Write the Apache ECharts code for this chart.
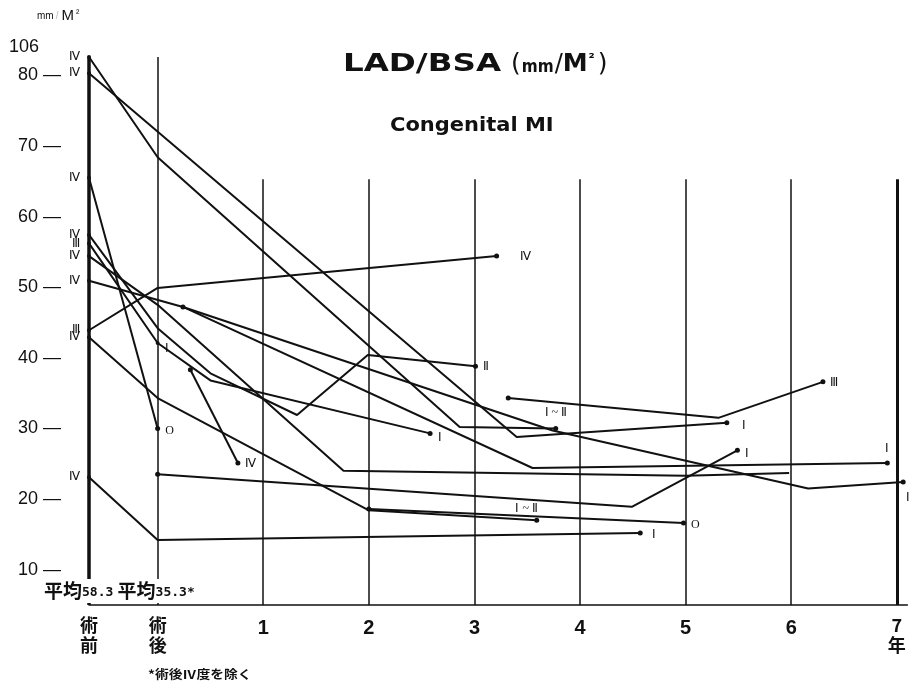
<!DOCTYPE html>
<html>
<head>
<meta charset="utf-8">
<script src="https://cdn.jsdelivr.net/npm/echarts@6/dist/echarts.min.js"></script>
<style>
html,body{margin:0;padding:0;background:#fff;}
#chart{width:912px;height:687px;}
</style>
</head>
<body>
<div id="chart"></div>
<script>
// Time positions: 術前 sits left of 術後 (0); years after surgery follow.
const xTickValues = [-0.65, 0, 1, 2, 3, 4, 5, 6, 7];
const xTickLabels = ['術\n前', '術\n後', '1', '2', '3', '4', '5', '6', '7\n年'];
const yTickValues = [10, 20, 30, 40, 50, 60, 70, 80, 84];
const yTickLabels = ['10', '20', '30', '40', '50', '60', '70', '80', '106'];

// One array of [years, LAD/BSA] per patient
const p01 = [[-0.65, 82.6], [0, 68.4], [2.86, 30.2], [3.77, 30.0]];
const p02 = [[-0.65, 80.3], [3.40, 28.8], [5.39, 30.8]];
const p03 = [[-0.65, 65.5], [0, 30.0]];
const p04 = [[-0.65, 43.9], [0, 49.9], [3.21, 54.4]];
const p05 = [[-0.65, 23.1], [0, 14.2], [4.57, 15.2]];
const p06 = [[-0.65, 42.9], [0, 34.3], [2.00, 18.4], [3.59, 17.0]];
const p07 = [[-0.65, 57.4], [0, 44.2], [0.50, 37.8], [1.32, 31.9], [1.99, 40.4], [3.01, 38.8]];
const p08 = [[-0.65, 56.2], [0, 42.1], [0.50, 36.8], [2.58, 29.3]];
const p09 = [[-0.65, 54.4], [0, 47.5], [1.76, 24.0], [5.0, 23.3], [5.98, 23.7]];
const p10 = [[-0.65, 50.9], [0.24, 47.2], [3.74, 29.7], [6.16, 21.5], [7.06, 22.4]];
const p11 = [[0, 23.5], [4.49, 18.9], [5.49, 26.9]];
const p12 = [[0.31, 38.3], [0.76, 25.1]];
const p13 = [[3.32, 34.3], [5.31, 31.5], [6.30, 36.6]];
const p14 = [[0.24, 47.2], [3.55, 24.4], [6.91, 25.1]];
const p15 = [[2.00, 18.6], [4.98, 16.6]];

const patients = [p01, p02, p03, p04, p05, p06, p07, p08, p09, p10, p11, p12, p13, p14, p15];
// Severity grade before surgery, right after surgery and at last follow-up ('' = none shown)
const gradeBefore = ['Ⅳ', 'Ⅳ', 'Ⅳ', 'Ⅲ', 'Ⅳ', 'Ⅳ', 'Ⅳ', 'Ⅲ', 'Ⅳ', 'Ⅳ', '', '', '', '', ''];
const gradePostOp = ['', '', '', '', '', '', '', 'Ⅰ', '', '', '', '', '', '', ''];
const gradeAfter = ['Ⅰ ~ Ⅱ', 'Ⅰ', 'O', 'Ⅳ', 'Ⅰ', 'Ⅰ ~ Ⅱ', 'Ⅱ', 'Ⅰ', '', 'Ⅰ', 'Ⅰ', 'Ⅳ', 'Ⅲ', 'Ⅰ', 'O'];
const meanBefore = 58.3;
const meanAfter = 35.3;

// placement of the end-grade labels
const endPos = [
  {position: 'top', offset: [0, -2]},
  {position: 'right', offset: [8, 3]},
  {position: 'right', offset: [0, 2]},
  {position: 'right', offset: [16, 1]},
  {position: 'right', offset: [4, 2]},
  {position: 'top', offset: [-10, 2]},
  {position: 'right', offset: [0, 1]},
  {position: 'right', offset: [0, 4]},
  {position: 'right', offset: [0, 0]},
  {position: 'bottom', offset: [5, 2]},
  {position: 'right', offset: [0, 4]},
  {position: 'right', offset: [0, 1]},
  {position: 'right', offset: [0, 1]},
  {position: 'top', offset: [0, -1]},
  {position: 'right', offset: [0, 2]}
];

const gradeFont = {fontFamily: 'Liberation Serif', fontSize: 12, color: '#111'};

const series = patients.map((pts, i) => ({
  type: 'line',
  silent: true,
  animation: false,
  clip: false,
  lineStyle: {color: '#111', width: 2},
  itemStyle: {color: '#111'},
  symbol: 'circle',
  data: pts.map((p, j) => {
    const item = {value: p, symbolSize: 0};
    const last = j === pts.length - 1;
    if (j === 0) {
      item.symbolSize = gradeBefore[i] ? 4 : 5;
      if (gradeBefore[i]) {
        item.label = Object.assign({show: true, position: 'left', distance: 7, formatter: gradeBefore[i]}, gradeFont);
      }
    }
    if (p[0] === 0 && gradePostOp[i]) {
      item.symbolSize = 4;
      item.label = Object.assign({show: true, position: 'right', distance: 5, offset: [0, 6], formatter: gradePostOp[i]}, gradeFont);
    }
    if (last && gradeAfter[i]) {
      item.symbolSize = 5;
      item.label = Object.assign({show: true, distance: 5, formatter: gradeAfter[i]}, endPos[i], gradeFont);
    }
    return item;
  })
}));

// Vertical reference lines at each time position
const vlines = [
  {x: -0.65, top: 82.6, w: 3.5},
  {x: 0, top: 82.6, w: 1.5},
  {x: 1, top: 65.3, w: 1.5},
  {x: 2, top: 65.3, w: 1.5},
  {x: 3, top: 65.3, w: 1.5},
  {x: 4, top: 65.3, w: 1.5},
  {x: 5, top: 65.3, w: 1.5},
  {x: 6, top: 65.3, w: 1.5},
  {x: 7, top: 65.3, w: 3}
];
series.unshift({
  type: 'line',
  data: [],
  silent: true,
  markLine: {
    silent: true,
    symbol: 'none',
    animation: false,
    label: {show: false},
    data: vlines.map(v => [
      {coord: [v.x, v.top], lineStyle: {color: '#111', width: v.w, type: 'solid'}},
      {coord: [v.x, 5]}
    ])
  }
});

const chart = echarts.init(document.getElementById('chart'), null, {renderer: 'canvas'});
chart.setOption({
  animation: false,
  backgroundColor: '#fff',
  grid: {left: 89, right: 4.6, top: 40, bottom: 82},
  xAxis: {
    type: 'value', min: -0.65, max: 7.1,
    axisLine: {show: true, lineStyle: {color: '#111', width: 1.5}},
    axisTick: {show: false},
    splitLine: {show: false},
    axisLabel: {
      customValues: xTickValues,
      margin: 10,
      formatter: v => {
        const s = xTickLabels[xTickValues.indexOf(v)];
        return s.indexOf('\n') >= 0 ? s.split('\n').map(c => '{k|' + c + '}').join('\n') : '{n|' + s + '}';
      },
      rich: {
        k: {fontFamily: 'Noto Sans CJK JP', fontWeight: 'bold', fontSize: 18, lineHeight: 20, color: '#111'},
        n: {fontFamily: 'Liberation Sans', fontWeight: 'bold', fontSize: 20, lineHeight: 26, color: '#111'}
      }
    }
  },
  yAxis: {
    type: 'value', min: 5, max: 85,
    axisLine: {show: false},
    axisTick: {show: false},
    splitLine: {show: false},
    axisLabel: {
      customValues: yTickValues,
      margin: 28,
      fontFamily: 'Liberation Sans',
      fontSize: 18,
      color: '#111',
      formatter: v => {
        const s = yTickLabels[yTickValues.indexOf(v)];
        return v === 84 ? '{t|' + s + '}' : s + ' —';
      },
      rich: {
        t: {fontFamily: 'Liberation Sans', fontSize: 18, color: '#111', padding: [0, 22, 0, 0]}
      }
    }
  },
  graphic: [
    {type: 'text', left: 37, top: 8, style: {
      text: '{a|mm}{s|/}{b|M}{c|²}',
      rich: {
        a: {fontFamily: 'Liberation Sans', fontSize: 10, fill: '#111'},
        s: {fontFamily: 'Liberation Sans', fontSize: 10, fill: '#bbb', padding: [0, 3, 0, 2]},
        b: {fontFamily: 'Liberation Sans', fontSize: 15, fill: '#111'},
        c: {fontFamily: 'Liberation Sans', fontSize: 10, fill: '#111', verticalAlign: 'top', padding: [0, 0, 6, 2]}
      }
    }},
    {type: 'text', x: 343, y: 52, scaleX: 1.3, style: {text: 'LAD/BSA', fontFamily: 'DejaVu Sans', fontWeight: 'bold', fontSize: 25, fill: '#111'}},
    {type: 'text', x: 511, y: 52, style: {
      text: '{p|(}{m|mm}{s|/}{b|M}{c|²}{p|)}',
      rich: {
        p: {fontFamily: 'DejaVu Sans', fontSize: 25, fill: '#111'},
        m: {fontFamily: 'DejaVu Sans Condensed', fontWeight: 'bold', fontSize: 17, fill: '#111', padding: [6, 1, 0, 1]},
        s: {fontFamily: 'DejaVu Sans', fontSize: 24, fill: '#111'},
        b: {fontFamily: 'DejaVu Sans', fontWeight: 'bold', fontSize: 25, fill: '#111'},
        c: {fontFamily: 'DejaVu Sans', fontWeight: 'bold', fontSize: 14, fill: '#111', padding: [0, 3, 10, 1]}
      }
    }},
    {type: 'text', x: 390, y: 116, scaleX: 1.05, style: {text: 'Congenital MI', fontFamily: 'DejaVu Sans', fontWeight: 'bold', fontSize: 20, fill: '#111'}},
    {type: 'text', left: 44, top: 579, z: 10, style: {
      text: '{k|平均}{n|' + meanBefore.toFixed(1) + '}{k| 平均}{n|' + meanAfter.toFixed(1) + '*}',
      backgroundColor: '#fff',
      padding: [2, 4, 3, 0],
      rich: {
        k: {fontFamily: 'Noto Sans CJK JP', fontWeight: 'bold', fontSize: 19, fill: '#111'},
        n: {fontFamily: 'DejaVu Sans Mono', fontWeight: 'bold', fontSize: 13, fill: '#111', padding: [4, 0, 0, 0]}
      }
    }},
    {type: 'text', x: 148, y: 668, scaleX: 1.15, style: {text: '*術後Ⅳ度を除く', fontFamily: 'Noto Sans CJK JP', fontWeight: 'bold', fontSize: 12, fill: '#111'}}
  ],
  series: series
});
</script>
</body>
</html>
